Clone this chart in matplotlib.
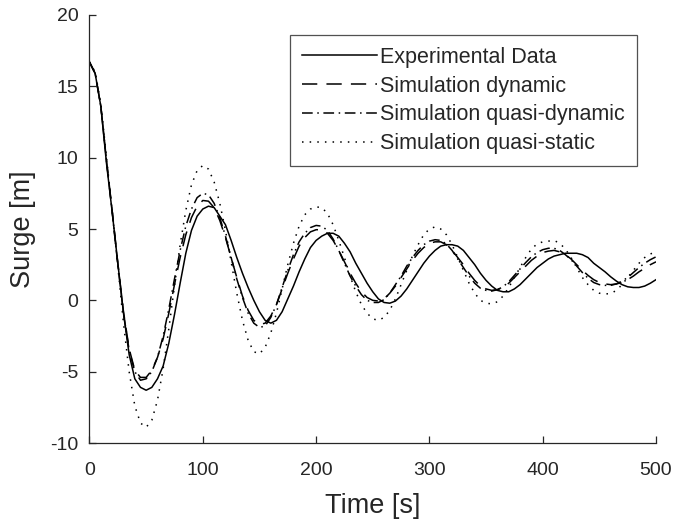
import numpy as np
import matplotlib
matplotlib.use("Agg")
import matplotlib.pyplot as plt

t = list(range(0, 501, 5))

experimental = [16.7, 15.9, 13.6, 9.6, 6.2, 2.6, -0.9, -3.8, -5.5, -6.1,
                -6.3, -6.1, -5.5, -4.6, -3.0, -1.0, 1.2, 3.3, 4.9, 5.9,
                6.4, 6.6, 6.5, 5.9, 5.3, 4.2, 3.0, 1.9, 0.9, 0.0,
                -0.8, -1.4, -1.6, -1.4, -0.8, 0.1, 1.0, 2.0, 2.9, 3.7,
                4.2, 4.5, 4.7, 4.7, 4.5, 4.0, 3.4, 2.6, 1.9, 1.2,
                0.6, 0.1, -0.15, -0.2, -0.05, 0.3, 0.8, 1.4, 2.0, 2.6,
                3.1, 3.5, 3.8, 3.9, 3.9, 3.8, 3.5, 3.0, 2.5, 1.9,
                1.4, 1.0, 0.7, 0.6, 0.6, 0.8, 1.1, 1.5, 1.9, 2.3,
                2.6, 2.9, 3.1, 3.2, 3.3, 3.3, 3.3, 3.2, 3.0, 2.6,
                2.3, 2.0, 1.65, 1.35, 1.1, 0.95, 0.9, 0.9, 1.0, 1.2,
                1.45]

dynamic = [16.7, 15.9, 13.6, 9.8, 6.3, 2.6, -0.8, -3.4, -4.9, -5.4,
           -5.4, -4.9, -4.0, -2.7, -0.9, 1.1, 3.0, 4.6, 5.8, 6.6,
           7.0, 6.95, 6.5, 5.6, 4.4, 3.0, 1.6, 0.3, -0.7, -1.4,
           -1.7, -1.6, -1.1, -0.3, 0.8, 1.9, 2.9, 3.8, 4.4, 4.8,
           4.95, 4.95, 4.7, 4.2, 3.5, 2.7, 1.9, 1.2, 0.6, 0.2,
           0.0, -0.05, 0.1, 0.5, 1.0, 1.6, 2.2, 2.8, 3.3, 3.7,
           4.0, 4.1, 4.1, 3.9, 3.5, 3.0, 2.5, 1.9, 1.4, 1.0,
           0.8, 0.7, 0.75, 0.9, 1.2, 1.6, 2.0, 2.4, 2.8, 3.1,
           3.35, 3.45, 3.5, 3.4, 3.2, 2.9, 2.5, 2.1, 1.75, 1.45,
           1.25, 1.15, 1.1, 1.15, 1.25, 1.45, 1.7, 2.0, 2.25, 2.5,
           2.7]

quasi_dynamic = [16.7, 15.9, 13.6, 9.8, 6.2, 2.5, -0.9, -3.5, -5.0, -5.6,
                 -5.5, -5.0, -4.0, -2.5, -0.6, 1.5, 3.5, 5.2, 6.4, 7.2,
                 7.5, 7.4, 6.8, 5.8, 4.5, 3.0, 1.5, 0.2, -0.9, -1.6,
                 -1.9, -1.8, -1.2, -0.3, 0.9, 2.1, 3.2, 4.1, 4.7, 5.1,
                 5.25, 5.2, 4.9, 4.3, 3.5, 2.6, 1.7, 1.0, 0.4, 0.0,
                 -0.15, -0.15, 0.05, 0.5, 1.1, 1.7, 2.4, 3.0, 3.5, 3.9,
                 4.15, 4.25, 4.2, 3.95, 3.5, 2.9, 2.3, 1.7, 1.2, 0.85,
                 0.7, 0.65, 0.75, 0.95, 1.3, 1.75, 2.2, 2.65, 3.05, 3.35,
                 3.55, 3.65, 3.65, 3.5, 3.2, 2.85, 2.4, 1.95, 1.55, 1.25,
                 1.1, 1.05, 1.05, 1.15, 1.35, 1.6, 1.95, 2.3, 2.6, 2.85,
                 3.05]

quasi_static = [16.7, 16.0, 13.8, 10.0, 6.3, 2.4, -1.6, -5.0, -7.4, -8.6,
                -8.9, -8.4, -7.0, -4.8, -2.0, 1.0, 3.9, 6.3, 8.1, 9.1,
                9.45, 9.2, 8.3, 6.8, 4.9, 2.7, 0.5, -1.4, -2.8, -3.6,
                -3.75, -3.3, -2.3, -0.9, 0.8, 2.5, 4.0, 5.2, 6.0, 6.4,
                6.55, 6.5, 6.1, 5.3, 4.2, 3.0, 1.7, 0.6, -0.3, -0.9,
                -1.3, -1.4, -1.2, -0.7, 0.1, 1.1, 2.1, 3.1, 3.9, 4.6,
                5.0, 5.15, 5.0, 4.6, 3.9, 3.0, 2.1, 1.2, 0.5, 0.0,
                -0.2, -0.25, -0.1, 0.3, 0.9, 1.6, 2.3, 3.0, 3.6, 3.95,
                4.1, 4.15, 4.2, 4.0, 3.6, 3.0, 2.3, 1.6, 1.1, 0.7,
                0.5, 0.45, 0.47, 0.7, 1.1, 1.6, 2.1, 2.6, 3.0, 3.25,
                3.4]

labels = ["Experimental Data", "Simulation dynamic",
          "Simulation quasi-dynamic", "Simulation quasi-static"]
xticks = [0, 100, 200, 300, 400, 500]
yticks = [-10, -5, 0, 5, 10, 15, 20]

plt.rcParams['font.family'] = ['Liberation Sans', 'DejaVu Sans']
plt.rcParams['axes.unicode_minus'] = False
txt = '#262626'

fig = plt.figure(figsize=(6.77, 5.22), dpi=100)
ax = fig.add_axes([0.1322, 0.1513, 0.969 - 0.1322, 0.9713 - 0.1513])

lw = 1.1
ax.plot(t, experimental, color='black', lw=lw, linestyle='-', label=labels[0])
ax.plot(t, dynamic, color='black', lw=lw, linestyle=(0, (10, 6)), label=labels[1])
ax.plot(t, quasi_dynamic, color='black', lw=lw, linestyle=(0, (7, 3, 1, 3)), label=labels[2])
ax.plot(t, quasi_static, color='black', lw=lw, linestyle=(0, (1, 4)), label=labels[3])

ax.set_xlim(0, 500)
ax.set_ylim(-10, 20)
ax.set_xticks(xticks)
ax.set_yticks(yticks)
for s in ['top', 'right']:
    ax.spines[s].set_visible(False)
for s in ['left', 'bottom']:
    ax.spines[s].set_color(txt)
    ax.spines[s].set_linewidth(0.9)
ax.tick_params(direction='in', length=5, width=0.9, color=txt, labelcolor=txt,
               labelsize=14)
ax.tick_params(axis='x', pad=14)
ax.tick_params(axis='y', pad=8)
ax.set_xlabel('Time [s]', fontsize=19.5, color=txt, labelpad=10)
ax.set_ylabel('Surge [m]', fontsize=19.5, color=txt, labelpad=10)

leg = ax.legend(loc='upper right', bbox_to_anchor=(0.966, 0.953), fontsize=15.5,
                frameon=True, fancybox=False, handlelength=3.5, handletextpad=0.15,
                labelspacing=0.36, borderpad=0.55, borderaxespad=0)
leg.get_frame().set_edgecolor(txt)
leg.get_frame().set_linewidth(0.9)
for text in leg.get_texts():
    text.set_color(txt)

fig.savefig('out.png', dpi=100)
